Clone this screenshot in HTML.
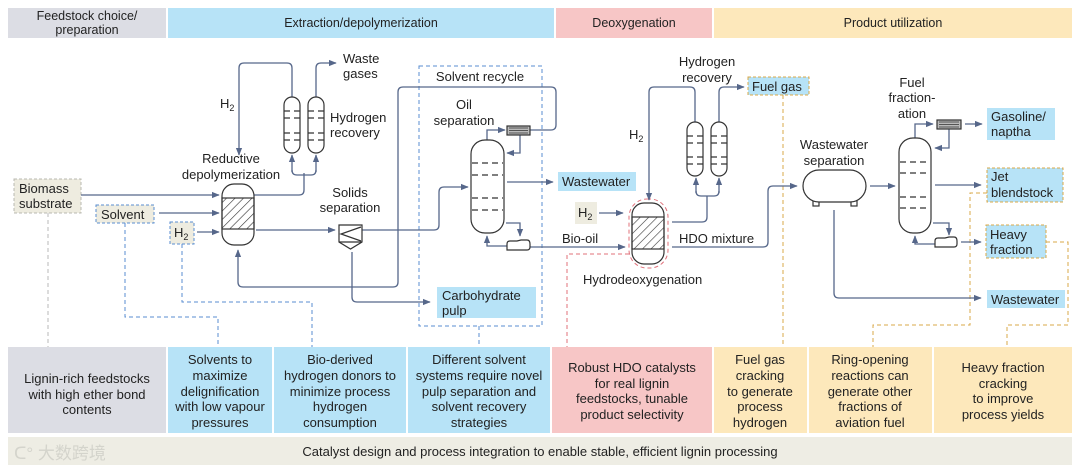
<!DOCTYPE html>
<html><head><meta charset="utf-8"><style>
html,body{margin:0;padding:0;background:#fff;}
svg{display:block;font-family:"Liberation Sans","Noto Sans CJK SC",sans-serif;}
</style></head><body>
<svg width="1080" height="471" viewBox="0 0 1080 471" xmlns="http://www.w3.org/2000/svg">
<defs>
<marker id="a" viewBox="0 0 10 10" refX="9" refY="5" markerWidth="6" markerHeight="6" orient="auto"><path d="M0,1 L10,5 L0,9 z" fill="#56678a"/></marker>
<pattern id="h" width="6" height="6" patternUnits="userSpaceOnUse" patternTransform="rotate(45)"><line x1="0" y1="0" x2="0" y2="6" stroke="#333" stroke-width="1.2"/></pattern>
</defs>
<!-- header -->
<rect x="8" y="8" width="158" height="30" fill="#dcdde4"/>
<rect x="168" y="8" width="386" height="30" fill="#b7e3f7"/>
<rect x="556" y="8" width="156" height="30" fill="#f7c6c6"/>
<rect x="714" y="8" width="358" height="30" fill="#fde8bb"/>
<g font-size="12.5" fill="#222" text-anchor="middle">
<text x="87" y="20">Feedstock choice/</text><text x="87" y="34">preparation</text>
<text x="361" y="27">Extraction/depolymerization</text>
<text x="634" y="27">Deoxygenation</text>
<text x="893" y="27">Product utilization</text>
</g>
<!-- bottom boxes -->
<rect x="8" y="347" width="158" height="86" fill="#dcdde4"/>
<rect x="168" y="347" width="104" height="86" fill="#b7e3f7"/>
<rect x="274" y="347" width="132" height="86" fill="#b7e3f7"/>
<rect x="408" y="347" width="142" height="86" fill="#b7e3f7"/>
<rect x="552" y="347" width="160" height="86" fill="#f7c6c6"/>
<rect x="714" y="347" width="93" height="86" fill="#fde8bb"/>
<rect x="809" y="347" width="123" height="86" fill="#fde8bb"/>
<rect x="934" y="347" width="138" height="86" fill="#fde8bb"/>
<rect x="8" y="437" width="1064" height="28" fill="#eeede4"/>
<g font-size="13" fill="#222" text-anchor="middle">
<text x="87" y="383">Lignin-rich feedstocks</text><text x="87" y="399">with high ether bond</text><text x="87" y="414">contents</text>
<text x="220" y="364">Solvents to</text><text x="220" y="380">maximize</text><text x="220" y="396">delignification</text><text x="220" y="411">with low vapour</text><text x="220" y="427">pressures</text>
<text x="340" y="364">Bio-derived</text><text x="340" y="380">hydrogen donors to</text><text x="340" y="396">minimize process</text><text x="340" y="411">hydrogen</text><text x="340" y="427">consumption</text>
<text x="479" y="364">Different solvent</text><text x="479" y="380">systems require novel</text><text x="479" y="396">pulp separation and</text><text x="479" y="411">solvent recovery</text><text x="479" y="427">strategies</text>
<text x="632" y="372">Robust HDO catalysts</text><text x="632" y="388">for real lignin</text><text x="632" y="403">feedstocks, tunable</text><text x="632" y="419">product selectivity</text>
<text x="760" y="364">Fuel gas</text><text x="760" y="380">cracking</text><text x="760" y="396">to generate</text><text x="760" y="411">process</text><text x="760" y="427">hydrogen</text>
<text x="870" y="364">Ring-opening</text><text x="870" y="380">reactions can</text><text x="870" y="396">generate other</text><text x="870" y="411">fractions of</text><text x="870" y="427">aviation fuel</text>
<text x="1003" y="372">Heavy fraction</text><text x="1003" y="388">cracking</text><text x="1003" y="403">to improve</text><text x="1003" y="419">process yields</text>
<text x="540" y="456">Catalyst design and process integration to enable stable, efficient lignin processing</text>
</g>
<text x="14" y="459" font-size="17" fill="#d4d4cc">ᑕ° 大数跨境</text>

<!-- dashed connectors -->
<g fill="none" stroke-width="1" stroke-dasharray="4,3">
<path d="M48,213 V347" stroke="#b8b8b8"/>
<path d="M125,223 V317 H218 V347" stroke="#5a8ed0"/>
<path d="M182,244 V302 H312 V347" stroke="#5a8ed0"/>
<rect x="419" y="66" width="123" height="260" stroke="#5a8ed0"/>
<path d="M479,326 V347" stroke="#5a8ed0"/>
<path d="M629,254 H567 V347" stroke="#e0707a"/>
<rect x="629" y="199" width="39" height="69" rx="18" stroke="#e0707a"/>
<path d="M783,95 V347" stroke="#d9a84a"/>
<path d="M987,193 H970 V325 H873 V347" stroke="#d9a84a"/>
<path d="M1046,242 H1068 V325 H1007 V347" stroke="#d9a84a"/>
</g>

<!-- label boxes -->
<g font-size="13" fill="#222">
<rect x="14" y="179" width="67" height="34" fill="#eeece0" stroke="#b8b8b0" stroke-dasharray="3,2"/>
<text x="19" y="193">Biomass</text><text x="19" y="208">substrate</text>
<rect x="96" y="205" width="58" height="18" fill="#eeece0" stroke="#5a8ed0" stroke-dasharray="3,2"/>
<text x="101" y="219">Solvent</text>
<rect x="170" y="222" width="24" height="22" fill="#eeece0" stroke="#5a8ed0" stroke-dasharray="3,2"/>
<text x="174" y="237">H<tspan font-size="9" dy="3">2</tspan></text>
<rect x="437" y="287" width="99" height="31" fill="#b7e3f7"/>
<text x="442" y="300">Carbohydrate</text><text x="442" y="315">pulp</text>
<rect x="558" y="172" width="78" height="19" fill="#b7e3f7"/>
<text x="562" y="186">Wastewater</text>
<rect x="575" y="202" width="22" height="22" fill="#eeece0"/>
<text x="578" y="217">H<tspan font-size="9" dy="3">2</tspan></text>
<rect x="748" y="77" width="61" height="18" fill="#b7e3f7" stroke="#d9a84a" stroke-dasharray="3,2"/>
<text x="752" y="91">Fuel gas</text>
<rect x="987" y="108" width="68" height="32" fill="#b7e3f7"/>
<text x="991" y="121">Gasoline/</text><text x="991" y="136">naptha</text>
<rect x="987" y="168" width="76" height="34" fill="#b7e3f7" stroke="#d9a84a" stroke-dasharray="3,2"/>
<text x="991" y="181">Jet</text><text x="991" y="197">blendstock</text>
<rect x="986" y="225" width="60" height="33" fill="#b7e3f7" stroke="#d9a84a" stroke-dasharray="3,2"/>
<text x="990" y="239">Heavy</text><text x="990" y="254">fraction</text>
<rect x="987" y="290" width="78" height="18" fill="#b7e3f7"/>
<text x="991" y="304">Wastewater</text>
</g>

<!-- text labels -->
<g font-size="13" fill="#222">
<text x="343" y="63">Waste</text><text x="343" y="78">gases</text>
<text x="220" y="108">H<tspan font-size="9" dy="3">2</tspan></text>
<text x="330" y="122">Hydrogen</text><text x="330" y="137">recovery</text>
<text x="231" y="163" text-anchor="middle">Reductive</text><text x="231" y="179" text-anchor="middle">depolymerization</text>
<text x="350" y="197" text-anchor="middle">Solids</text><text x="350" y="212" text-anchor="middle">separation</text>
<text x="480" y="81" text-anchor="middle">Solvent recycle</text>
<text x="464" y="109" text-anchor="middle">Oil</text><text x="464" y="125" text-anchor="middle">separation</text>
<text x="707" y="66" text-anchor="middle">Hydrogen</text><text x="707" y="82" text-anchor="middle">recovery</text>
<text x="629" y="139">H<tspan font-size="9" dy="3">2</tspan></text>
<text x="562" y="243">Bio-oil</text>
<text x="679" y="243">HDO mixture</text>
<text x="583" y="284">Hydrodeoxygenation</text>
<text x="834" y="149" text-anchor="middle">Wastewater</text><text x="834" y="165" text-anchor="middle">separation</text>
<text x="912" y="87" text-anchor="middle">Fuel</text><text x="912" y="102" text-anchor="middle">fraction-</text><text x="912" y="118" text-anchor="middle">ation</text>
</g>

<!-- process lines -->
<g fill="none" stroke="#56678a" stroke-width="1.3">
<path d="M292,97 V68 Q292,63 287,63 H244 Q239,63 239,68 V155" marker-end="url(#a)"/>
<path d="M316,97 V68 Q316,63 321,63 H336" marker-end="url(#a)"/>
<path d="M254,195 H299 Q304,195 304,190 V173"/>
<path d="M292,170 Q292,175 297,175 H311 Q316,175 316,170"/>
<path d="M292,172 V155" marker-end="url(#a)"/><path d="M316,172 V155" marker-end="url(#a)"/>
<path d="M81,195 H219" marker-end="url(#a)"/>
<path d="M159,213 H219" marker-end="url(#a)"/>
<path d="M197,232 H219" marker-end="url(#a)"/>
<path d="M256,230 H335" marker-end="url(#a)"/>
<path d="M362,230 H434 Q439,230 439,225 V192 Q439,187 444,187 H468" marker-end="url(#a)"/>
<path d="M530,130 H551 Q556,130 556,125 V92 Q556,87 551,87 H403 Q398,87 398,92 V282 Q398,287 393,287 H243 Q238,287 238,282 V250" marker-end="url(#a)"/>
<path d="M352,252 V297 Q352,302 357,302 H430" marker-end="url(#a)"/>
<path d="M487,140 V130 H505" marker-end="url(#a)"/>
<path d="M520,134 V153 H507" marker-end="url(#a)"/>
<path d="M507,182 H553" marker-end="url(#a)"/>
<path d="M506,223 H520 V236" marker-end="url(#a)"/>
<path d="M507,246 H487 V236" marker-end="url(#a)"/>
<path d="M530,247 H625" marker-end="url(#a)"/>
<path d="M695,122 V92 Q695,87 690,87 H654 Q649,87 649,92 V200" marker-end="url(#a)"/>
<path d="M719,122 V92 Q719,87 724,87 H744" marker-end="url(#a)"/>
<path d="M599,213 H623" marker-end="url(#a)"/>
<path d="M672,222 H702 Q707,222 707,217 V196"/>
<path d="M696,191 Q696,196 701,196 H714 Q719,196 719,191"/>
<path d="M696,193 V178" marker-end="url(#a)"/><path d="M719,193 V178" marker-end="url(#a)"/>
<path d="M672,247 H763 Q768,247 768,242 V191 Q768,186 773,186 H797" marker-end="url(#a)"/>
<path d="M870,186 H895" marker-end="url(#a)"/>
<path d="M834,210 V293 Q834,298 839,298 H981" marker-end="url(#a)"/>
<path d="M915,138 V124 H933" marker-end="url(#a)"/>
<path d="M949,129 V148 H935" marker-end="url(#a)"/>
<path d="M965,124 H982" marker-end="url(#a)"/>
<path d="M935,185 H981" marker-end="url(#a)"/>
<path d="M933,223 H949 V235" marker-end="url(#a)"/>
<path d="M935,244 H915 V236" marker-end="url(#a)"/>
<path d="M961,242 H981" marker-end="url(#a)"/>
</g>

<!-- equipment -->
<g fill="#fff" stroke="#333" stroke-width="1.2">
<rect x="284" y="97" width="16" height="56" rx="8"/>
<rect x="308" y="97" width="16" height="56" rx="8"/>
<rect x="687" y="122" width="16" height="54" rx="8"/>
<rect x="711" y="122" width="16" height="54" rx="8"/>
<rect x="222" y="184" width="32" height="61" rx="12"/>
<rect x="222" y="198" width="32" height="31" fill="url(#h)"/>
<rect x="632" y="203" width="32" height="61" rx="12"/>
<rect x="632" y="217" width="32" height="32" fill="url(#h)"/>
<path d="M339,225 H362 V242 L350.5,249 L339,242 Z"/>
<path d="M361,227 L341,234 L361,241" fill="none"/>
<line x1="339" y1="242" x2="362" y2="242"/>
<rect x="471" y="140" width="33" height="93" rx="14"/>
<rect x="899" y="138" width="32" height="95" rx="14"/>
<rect x="507" y="126" width="23" height="9" fill="#bbb"/>
<rect x="937" y="120" width="24" height="9" fill="#bbb"/>
<path d="M507,250 V244 Q507,241 510,241 H517 L521,240 H527 Q530,240 530,244 V247 Q530,250 527,250 Z"/>
<path d="M935,247 V241 Q935,238 938,238 H945 L949,237 H954 Q957,237 957,241 V244 Q957,247 954,247 Z"/>
<rect x="813" y="200" width="6" height="6"/><rect x="851" y="200" width="6" height="6"/>
<rect x="803" y="170" width="63" height="32" rx="16"/>
</g>
<g stroke="#333" stroke-width="1.2" stroke-dasharray="6,4">
<path d="M284,111 H300 M284,118 H300 M284,133 H300 M284,140 H300"/>
<path d="M308,111 H324 M308,118 H324 M308,133 H324 M308,140 H324"/>
<path d="M687,136 H703 M687,143 H703 M687,157 H703 M687,164 H703"/>
<path d="M711,136 H727 M711,143 H727 M711,157 H727 M711,164 H727"/>
<path d="M472,163 H503 M472,175 H503 M472,198 H503 M472,210 H503"/>
<path d="M900,162 H930 M900,173 H930 M900,197 H930 M900,208 H930"/>
</g>
<g stroke="#333" stroke-width="0.8">
<path d="M509,128 H528 M509,130.5 H528 M509,133 H528"/>
<path d="M939,122 H959 M939,124.5 H959 M939,127 H959"/>
</g>
</svg>
</body></html>
